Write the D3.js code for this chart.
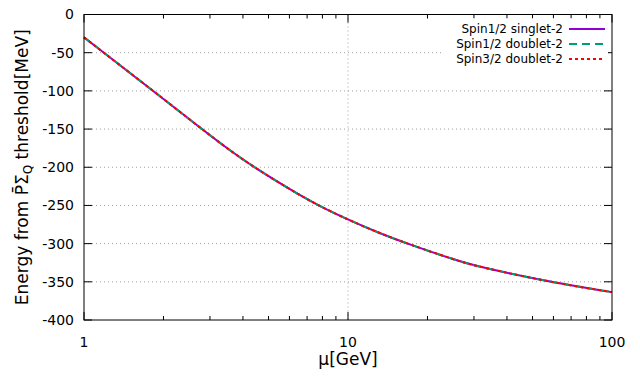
<!DOCTYPE html>
<html>
<head>
<meta charset="utf-8">
<script src="https://cdn.jsdelivr.net/npm/d3@7"></script>
<style>
  body { margin: 0; background: #fff; }
  svg { display: block; font-family: "DejaVu Sans", sans-serif; }
</style>
</head>
<body>
<div id="chart"></div>
<script>
// Values (mu in GeV, energy in MeV)
const muValues = [1, 1.83, 2.77, 3.57, 4.45, 6.03, 7.6, 10.2, 13.2, 16.9, 26.5, 31.6, 57.4, 100];
const energyValues = [-30, -100, -149, -178, -201, -229, -249, -270, -286.5, -300.5, -323.5, -330.5, -350, -363.5];
const seriesNames = ["Spin1/2 singlet-2", "Spin1/2 doublet-2", "Spin3/2 doublet-2"];
const seriesColors = ["#9400d3", "#009e73", "#ff0000"];
const seriesDash = [null, "8,5", "3,3"];
const yTicks = [0, -50, -100, -150, -200, -250, -300, -350, -400];
const xTicks = [1, 10, 100];

const width = 640, height = 384;
const margin = { top: 14.5, right: 28, bottom: 64, left: 84 };
const w = width - margin.left - margin.right;
const h = height - margin.top - margin.bottom;

const svg = d3.select("#chart").append("svg")
  .attr("width", width).attr("height", height);
const g = svg.append("g").attr("transform", `translate(${margin.left},${margin.top})`);

const x = d3.scaleLog().domain([1, 100]).range([0, w]);
const y = d3.scaleLinear().domain([-400, 0]).range([h, 0]);

// --- Grid ---
g.append("g").selectAll("line").data(yTicks.filter(d => d !== 0 && d !== -400))
  .join("line")
  .attr("x1", 0).attr("x2", w)
  .attr("y1", d => y(d)).attr("y2", d => y(d))
  .attr("stroke", "#a0a0a0").attr("stroke-dasharray", "1,3");
g.append("line")
  .attr("x1", x(10)).attr("x2", x(10)).attr("y1", 0).attr("y2", h)
  .attr("stroke", "#a0a0a0").attr("stroke-dasharray", "1,3");

// --- Ticks (mirrored, inward) ---
const minorX = [];
[1, 10].forEach(dec => { for (let k = 2; k <= 9; k++) minorX.push(dec * k); });
const tickG = g.append("g").attr("stroke", "#000").attr("stroke-width", 1);
xTicks.forEach(t => {
  tickG.append("line").attr("x1", x(t)).attr("x2", x(t)).attr("y1", h).attr("y2", h - 8);
  tickG.append("line").attr("x1", x(t)).attr("x2", x(t)).attr("y1", 0).attr("y2", 8);
});
minorX.forEach(t => {
  tickG.append("line").attr("x1", x(t)).attr("x2", x(t)).attr("y1", h).attr("y2", h - 4);
  tickG.append("line").attr("x1", x(t)).attr("x2", x(t)).attr("y1", 0).attr("y2", 4);
});
yTicks.forEach(t => {
  tickG.append("line").attr("x1", 0).attr("x2", 8).attr("y1", y(t)).attr("y2", y(t));
  tickG.append("line").attr("x1", w).attr("x2", w - 8).attr("y1", y(t)).attr("y2", y(t));
});

// --- Tick labels ---
g.append("g").selectAll("text").data(yTicks).join("text")
  .attr("x", -10).attr("y", d => y(d)).attr("dy", "0.35em")
  .attr("text-anchor", "end").attr("font-size", 14)
  .text(d => d);
g.append("g").selectAll("text").data(xTicks).join("text")
  .attr("x", d => x(d)).attr("y", h + 27)
  .attr("text-anchor", "middle").attr("font-size", 14)
  .text(d => d);

// --- Curves ---
const line = d3.line()
  .x(d => x(d[0])).y(d => y(d[1]))
  .curve(d3.curveBasis);
const pts = muValues.map((m, i) => [m, energyValues[i]]);
seriesNames.forEach((name, i) => {
  g.append("path").datum(pts)
    .attr("d", line)
    .attr("fill", "none")
    .attr("stroke", seriesColors[i])
    .attr("stroke-width", 2)
    .attr("stroke-dasharray", seriesDash[i]);
});

// --- Legend (opaque key) ---
const key = g.append("g");
key.append("rect")
  .attr("x", 358).attr("y", 4).attr("width", w - 362).attr("height", 50)
  .attr("fill", "#fff");
seriesNames.forEach((name, i) => {
  const ly = 14.5 + i * 15;
  key.append("text")
    .attr("x", 479).attr("y", ly).attr("dy", "0.35em")
    .attr("text-anchor", "end").attr("font-size", 12)
    .text(name);
  key.append("line")
    .attr("x1", 485).attr("x2", 521).attr("y1", ly).attr("y2", ly)
    .attr("stroke", seriesColors[i]).attr("stroke-width", 2)
    .attr("stroke-dasharray", seriesDash[i]);
});

// --- Border ---
g.append("rect").attr("width", w).attr("height", h)
  .attr("fill", "none").attr("stroke", "#000").attr("stroke-width", 1);

// --- Axis titles ---
svg.append("text")
  .attr("x", margin.left + w / 2).attr("y", 365)
  .attr("text-anchor", "middle").attr("font-size", 17)
  .text("μ[GeV]");
const yl = svg.append("text")
  .attr("transform", `translate(28,${margin.top + h / 2}) rotate(-90)`)
  .attr("text-anchor", "middle").attr("font-size", 17);
yl.append("tspan").text("Energy from P\u0304Σ");
yl.append("tspan").attr("font-size", 12).attr("dy", 4).text("Q");
yl.append("tspan").attr("dy", -4).text(" threshold[MeV]");
</script>
</body>
</html>
